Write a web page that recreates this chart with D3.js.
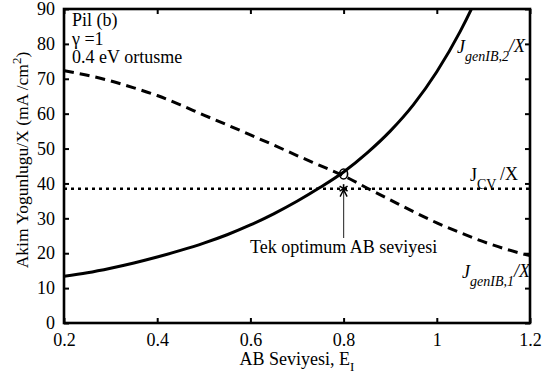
<!DOCTYPE html>
<html>
<head>
<meta charset="utf-8">
<script src="https://cdn.jsdelivr.net/npm/d3@7"></script>
<style>
  html, body { margin: 0; padding: 0; background: #fff; }
</style>
</head>
<body>
<svg id="chart" width="550" height="374"></svg>
<script>
// Intermediate-band (AB) level, eV
const abLevels = [0.2, 0.25, 0.3, 0.35, 0.4, 0.45, 0.5, 0.55, 0.6, 0.65, 0.7, 0.75,
                  0.8, 0.85, 0.9, 0.95, 1.0, 1.05, 1.1, 1.15, 1.2];
// J_genIB,2 / X (mA/cm^2) - solid curve, leaves the top of the axes past ~1.07 eV
const jGenIB2 = [13.4, 14.4, 15.7, 17.2, 18.9, 20.8, 22.9, 25.3, 28.1, 31.3, 34.9, 38.9,
                 43.3, 48.7, 55.0, 62.6, 72.0, 83.5, 97.5, 114.0, 133.0];
// J_genIB,1 / X (mA/cm^2) - dashed curve
const jGenIB1 = [72.3, 71.0, 69.4, 67.4, 65.2, 62.5, 59.6, 56.8, 53.9, 51.0, 48.0, 45.1,
                 42.2, 38.7, 35.3, 31.9, 28.7, 25.9, 23.3, 21.1, 19.3];
// J_CV / X (mA/cm^2) - dotted line
const jCV = [38.5, 38.5, 38.5, 38.5, 38.5, 38.5, 38.5, 38.5, 38.5, 38.5, 38.5, 38.5,
             38.5, 38.5, 38.5, 38.5, 38.5, 38.5, 38.5, 38.5, 38.5];

const xTicks = [0.2, 0.4, 0.6, 0.8, 1.0, 1.2];
const xTickLabels = ["0.2", "0.4", "0.6", "0.8", "1", "1.2"];
const yTicks = [0, 10, 20, 30, 40, 50, 60, 70, 80, 90];

// single optimum point: crossing of the two generation curves, and J_CV below it
const optimumE = [0.8];
const optimumCross = [42.7];
const optimumCV = [38.5];

const infoLines = ["Pil (b)", "\u03b3 =1", "0.4 eV ortusme"];

const svg = d3.select("#chart");

// pick the first installed Times-like face; a wider fallback gets a smaller size
function hasFont(name) {
  const probe = svg.append("text").attr("font-size", 40).text("mmmmWWiil1.0");
  probe.style("font-family", "monospace");
  const base = probe.node().getComputedTextLength();
  probe.style("font-family", `'${name}', monospace`);
  const w = probe.node().getComputedTextLength();
  probe.remove();
  return Math.abs(w - base) > 0.5;
}
const candidates = [["Liberation Serif", 1], ["Tinos", 1], ["Times New Roman", 1],
                    ["Nimbus Roman", 1], ["DejaVu Serif", 0.86], ["Noto Serif", 0.9]];
let FONT = "serif", FS = 1;
for (const [name, k] of candidates) {
  if (hasFont(name)) { FONT = `'${name}', serif`; FS = k; break; }
}
const fs = (px) => px * FS;

svg.style("font-family", FONT);
const x = d3.scaleLinear().domain([0.2, 1.2]).range([64, 530]);
const y = d3.scaleLinear().domain([0, 90]).range([323, 9]);

function txt(sel) {
  return sel.append("text").style("font-family", FONT).attr("fill", "#000");
}

svg.append("defs").append("clipPath").attr("id", "plotClip")
  .append("rect")
  .attr("x", x(0.2)).attr("y", y(90))
  .attr("width", x(1.2) - x(0.2)).attr("height", y(0) - y(90));

const plot = svg.append("g").attr("clip-path", "url(#plotClip)");
const line = (vals) => d3.line()
  .x((d, i) => x(abLevels[i]))
  .y(d => y(d))
  .curve(d3.curveMonotoneX)(vals);

plot.append("path").attr("d", line(jCV))
  .attr("fill", "none").attr("stroke", "#000")
  .attr("stroke-width", 2.6).attr("stroke-dasharray", "3,4");
plot.append("path").attr("d", line(jGenIB1))
  .attr("fill", "none").attr("stroke", "#000")
  .attr("stroke-width", 3).attr("stroke-dasharray", "10,6");
plot.append("path").attr("d", line(jGenIB2))
  .attr("fill", "none").attr("stroke", "#000")
  .attr("stroke-width", 3);

// optimum markers: open circle at the crossing, star on J_CV
plot.append("ellipse")
  .attr("cx", x(optimumE[0])).attr("cy", y(optimumCross[0]))
  .attr("rx", 4).attr("ry", 5)
  .attr("fill", "none").attr("stroke", "#000").attr("stroke-width", 1.6);

const sx = x(optimumE[0]), sy = y(optimumCV[0]);
const star = svg.append("g").attr("stroke", "#000").attr("stroke-width", 1.6);
[[0, -4.5, 0, 4.5], [-4, -2.5, 4, 2.5], [-4, 2.5, 4, -2.5]].forEach(s => {
  star.append("line").attr("x1", sx + s[0]).attr("y1", sy + s[1])
    .attr("x2", sx + s[2]).attr("y2", sy + s[3]);
});

// annotation arrow pointing up at the star
const arrowBottom = 238;
svg.append("line")
  .attr("x1", sx).attr("y1", arrowBottom).attr("x2", sx).attr("y2", sy + 1)
  .attr("stroke", "#444").attr("stroke-width", 1.2);
svg.append("path")
  .attr("d", `M${sx - 3.5},${sy + 8} L${sx},${sy + 1} L${sx + 3.5},${sy + 8}`)
  .attr("fill", "none").attr("stroke", "#000").attr("stroke-width", 1.4);

txt(svg).attr("x", sx).attr("y", 253)
  .attr("text-anchor", "middle").attr("font-size", fs(18))
  .text("Tek optimum AB seviyesi");

// frame
svg.append("rect")
  .attr("x", x(0.2)).attr("y", y(90))
  .attr("width", x(1.2) - x(0.2)).attr("height", y(0) - y(90))
  .attr("fill", "none").attr("stroke", "#000").attr("stroke-width", 2.6);

// axes with inward ticks on all four sides
const tickLen = 5;
const axB = svg.append("g").attr("transform", `translate(0,${y(0)})`)
  .call(d3.axisBottom(x).tickValues(xTicks).tickSizeInner(-tickLen).tickSizeOuter(0)
        .tickPadding(tickLen + 5).tickFormat((d, i) => xTickLabels[i]));
const axT = svg.append("g").attr("transform", `translate(0,${y(90)})`)
  .call(d3.axisTop(x).tickValues(xTicks).tickSizeInner(-tickLen).tickSizeOuter(0)
        .tickFormat(""));
const axL = svg.append("g").attr("transform", `translate(${x(0.2)},0)`)
  .call(d3.axisLeft(y).tickValues(yTicks).tickSizeInner(-tickLen).tickSizeOuter(0)
        .tickPadding(tickLen + 4));
const axR = svg.append("g").attr("transform", `translate(${x(1.2)},0)`)
  .call(d3.axisRight(y).tickValues(yTicks).tickSizeInner(-tickLen).tickSizeOuter(0)
        .tickFormat(""));
[axB, axT, axL, axR].forEach(a => {
  a.attr("font-family", null);
  a.select(".domain").remove();
  a.selectAll(".tick line").attr("stroke", "#000").attr("stroke-width", 2);
  a.selectAll(".tick text").attr("font-size", fs(18)).style("font-family", FONT);
});

// info text in the upper-left corner
infoLines.forEach((t, i) => {
  txt(svg).attr("x", 72).attr("y", 26 + i * 18.5)
    .attr("font-size", fs(18)).text(t);
});

// curve labels
function curveLabel(xp, yp, sub, italic, gap) {
  const t = txt(svg).attr("x", xp).attr("y", yp).attr("font-size", fs(18))
    .attr("font-style", italic ? "italic" : "normal");
  t.append("tspan").text("J");
  t.append("tspan").attr("dy", 8).attr("font-size", fs(14)).text(sub);
  t.append("tspan").attr("dy", -9).text((gap ? "\u2009" : "") + "/X");
}
curveLabel(457, 53, "genIB,2", true, false);
curveLabel(470, 181, "CV", false, true);
curveLabel(462, 278, "genIB,1", true, false);

// axis titles
const xt = txt(svg).attr("x", (x(0.2) + x(1.2)) / 2).attr("y", 365)
  .attr("text-anchor", "middle").attr("font-size", fs(18));
xt.append("tspan").text("AB Seviyesi, E");
xt.append("tspan").attr("dy", 6).attr("font-size", fs(13)).text("I");

const yt = txt(svg)
  .attr("transform", `translate(28,160) rotate(-90)`)
  .attr("text-anchor", "middle").attr("font-size", fs(17.5));
yt.append("tspan").text("Akim Yogunlugu/X (mA /cm");
yt.append("tspan").attr("dy", -7).attr("font-size", fs(13)).text("2");
yt.append("tspan").attr("dy", 7).text(")");
</script>
</body>
</html>
